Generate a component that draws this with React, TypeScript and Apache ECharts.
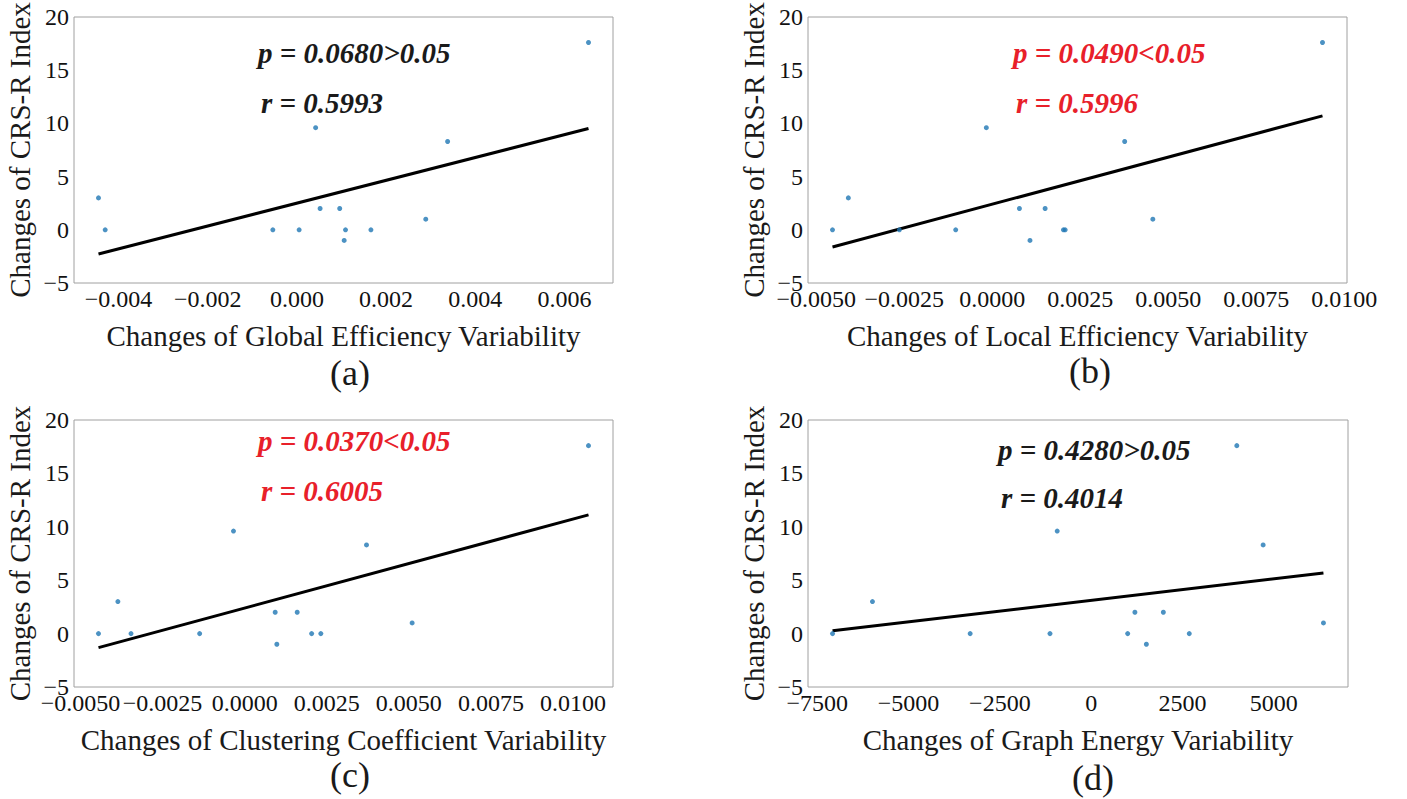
import React, { useEffect, useRef } from 'react';
import * as echarts from 'echarts';

// ---- data ----
const globalEffX = [-0.00445, -0.0043, -0.00054, 0.00005, 0.00042, 0.00052, 0.00096, 0.00109, 0.00106, 0.00166, 0.00289, 0.00338, 0.00654];
const globalEffY = [3, 0, 0, 0, 9.6, 2, 2, 0, -1, 0, 1, 8.3, 17.6];

const localEffX = [-0.00454, -0.00409, -0.00264, -0.00104, -0.00017, 0.00077, 0.00107, 0.0015, 0.00202, 0.00207, 0.00376, 0.00456, 0.00938];
const localEffY = [0, 3, 0, 0, 9.6, 2, -1, 2, 0, 0, 8.3, 1, 17.6];

const clusterX = [-0.00445, -0.00386, -0.00346, -0.00137, -0.00034, 0.00093, 0.00098, 0.0016, 0.00204, 0.00232, 0.00371, 0.0051, 0.01047];
const clusterY = [0, 3, 0, 0, 9.6, 2, -1, 2, 0, 0, 8.3, 1, 17.6];

const energyX = [-7083, -5990, -3314, -1128, -930, 1000, 1198, 1512, 1977, 2687, 3989, 4710, 6362];
const energyY = [0, 3, 0, 0, 9.6, 0, 2, -1, 2, 0, 17.6, 8.3, 1];

const ticksA = [-0.004, -0.002, 0, 0.002, 0.004, 0.006];
const ticksB = [-0.005, -0.0025, 0, 0.0025, 0.005, 0.0075, 0.01];
const ticksC = [-0.005, -0.0025, 0, 0.0025, 0.005, 0.0075, 0.01];
const ticksD = [-7500, -5000, -2500, 0, 2500, 5000];

const xTitles = [
  'Changes of Global Efficiency Variability',
  'Changes of Local Efficiency Variability',
  'Changes of Clustering Coefficient Variability',
  'Changes of Graph Energy Variability',
];
const yTitle = 'Changes of CRS-R Index';
const pTexts = ['p = 0.0680>0.05', 'p = 0.0490<0.05', 'p = 0.0370<0.05', 'p = 0.4280>0.05'];
const rTexts = ['r = 0.5993', 'r = 0.5996', 'r = 0.6005', 'r = 0.4014'];
const significant = [false, true, true, false];
const panelLabels = ['(a)', '(b)', '(c)', '(d)'];
const yMin = -5;
const yMax = 20;
const yStep = 5;

const FONT = 'Liberation Serif';

function fit(xs: number[], ys: number[]) {
  const n = xs.length;
  const mx = xs.reduce((a, b) => a + b, 0) / n;
  const my = ys.reduce((a, b) => a + b, 0) / n;
  let sxy = 0, sxx = 0;
  for (let i = 0; i < n; i++) {
    sxy += (xs[i] - mx) * (ys[i] - my);
    sxx += (xs[i] - mx) * (xs[i] - mx);
  }
  const k = sxy / sxx;
  const b = my - k * mx;
  const x0 = Math.min(...xs);
  const x1 = Math.max(...xs);
  return [[x0, k * x0 + b], [x1, k * x1 + b]];
}

function limits(xs: number[]) {
  const lo = Math.min(...xs);
  const hi = Math.max(...xs);
  const m = (hi - lo) * 0.05;
  return [lo - m, hi + m];
}

const fmt = (dec: number) => (v: number) => {
  const s = Math.abs(v).toFixed(dec);
  return v < -1e-12 ? '\u2212' + s : s;
};

export default function App() {
  const ref = useRef<HTMLDivElement>(null);
  useEffect(() => {
    document.body.style.margin = '0';
    if (!ref.current) return;
    const chart = echarts.init(ref.current, undefined, { renderer: 'svg' });

    const panels = [
      { xs: globalEffX, ys: globalEffY, ticks: ticksA, dec: 3 },
      { xs: localEffX, ys: localEffY, ticks: ticksB, dec: 4 },
      { xs: clusterX, ys: clusterY, ticks: ticksC, dec: 4 },
      { xs: energyX, ys: energyY, ticks: ticksD, dec: 0 },
    ];
    const grids = [
      { left: 74, top: 17, width: 539, height: 266 },
      { left: 808, top: 17, width: 539, height: 266 },
      { left: 74, top: 420, width: 539, height: 267 },
      { left: 808, top: 420, width: 540, height: 267 },
    ];
    const annot = [
      { px: 258, py: 53, rx: 261, ry: 103, lx: 350, ly: 373 },
      { px: 1013, py: 53, rx: 1016, ry: 103, lx: 1090, ly: 371 },
      { px: 258, py: 441, rx: 261, ry: 491, lx: 350, ly: 775 },
      { px: 998, py: 450, rx: 1001, ry: 498, lx: 1093, ly: 778 },
    ];

    const option: any = {
      animation: false,
      backgroundColor: '#fff',
      textStyle: { fontFamily: FONT },
      grid: grids.map((g) => ({
        ...g,
        show: true,
        borderColor: '#a0a0a0',
        borderWidth: 1,
        backgroundColor: 'transparent',
        containLabel: false,
        outerBoundsMode: 'none',
      })),
      xAxis: panels.map((p, i) => {
        const [mn, mx] = limits(p.xs);
        return {
          type: 'value',
          gridIndex: i,
          min: mn,
          max: mx,
          name: xTitles[i],
          nameLocation: 'middle',
          nameGap: 38,
          nameTextStyle: { fontFamily: FONT, fontSize: 29, color: '#1a1a1a' },
          axisLine: { show: false },
          axisTick: { show: false },
          splitLine: { show: false },
          axisLabel: {
            customValues: p.ticks,
            formatter: fmt(p.dec),
            fontFamily: FONT,
            fontSize: 24,
            color: '#111',
            margin: 4,
          },
        };
      }),
      yAxis: panels.map((p, i) => ({
        type: 'value',
        gridIndex: i,
        min: yMin,
        max: yMax,
        interval: yStep,
        name: yTitle,
        nameLocation: 'middle',
        nameGap: 40,
        nameTextStyle: { fontFamily: FONT, fontSize: 29, color: '#1a1a1a' },
        axisLine: { show: false },
        axisTick: { show: false },
        splitLine: { show: false },
        axisLabel: {
          formatter: fmt(0),
          fontFamily: FONT,
          fontSize: 24,
          color: '#111',
          margin: 5,
        },
      })),
      series: panels.flatMap((p, i) => [
        {
          type: 'line',
          xAxisIndex: i,
          yAxisIndex: i,
          data: fit(p.xs, p.ys),
          showSymbol: false,
          lineStyle: { color: '#000', width: 3 },
          z: 2,
        },
        {
          type: 'scatter',
          xAxisIndex: i,
          yAxisIndex: i,
          data: p.xs.map((x, j) => [x, p.ys[j]]),
          symbolSize: 5,
          itemStyle: { color: '#1f77b4' },
          z: 3,
        },
      ]),
      graphic: annot.flatMap((a, i) => {
        const col = significant[i] ? '#e8202a' : '#1a1a1a';
        const st = { fontFamily: FONT, fontSize: 29, fontWeight: 'bold', fontStyle: 'italic', fill: col, verticalAlign: 'middle', align: 'left' };
        return [
          { type: 'text', x: a.px, y: a.py, style: { ...st, text: pTexts[i] } },
          { type: 'text', x: a.rx, y: a.ry, style: { ...st, text: rTexts[i] } },
          { type: 'text', x: a.lx, y: a.ly, style: { fontFamily: FONT, fontSize: 36, fill: '#1a1a1a', align: 'center', verticalAlign: 'middle', text: panelLabels[i] } },
        ];
      }),
    };
    chart.setOption(option);
    return () => chart.dispose();
  }, []);
  return <div ref={ref} style={{ width: 1407, height: 799 }} />;
}
